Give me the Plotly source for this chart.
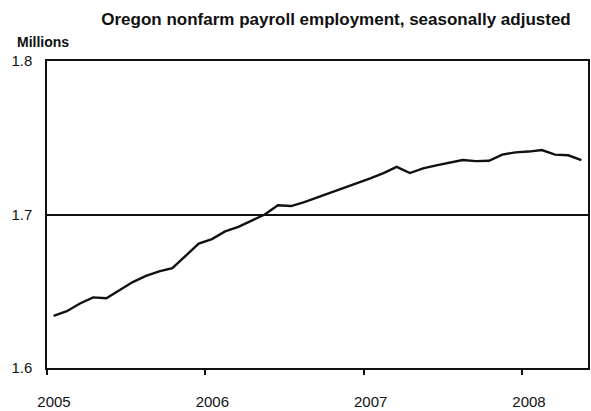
import plotly.graph_objects as go

# Monthly data, Jan 2005 - May 2008 (millions)
years = [2005, 2006, 2007, 2008]
employment_2005 = [1.634, 1.637, 1.642, 1.646, 1.6455, 1.651, 1.656, 1.660, 1.663, 1.665, 1.673, 1.681]
employment_2006 = [1.684, 1.689, 1.692, 1.696, 1.700, 1.706, 1.7055, 1.708, 1.711, 1.714, 1.717, 1.720]
employment_2007 = [1.7235, 1.727, 1.731, 1.727, 1.730, 1.732, 1.7338, 1.7355, 1.7348, 1.735, 1.739, 1.7405]
employment_2008 = [1.741, 1.742, 1.739, 1.7386, 1.7355]
y_ticks = [1.6, 1.7, 1.8]
y_tick_labels = ["1.6", "1.7", "1.8"]
x_tick_labels = ["2005", "2006", "2007", "2008"]

values = employment_2005 + employment_2006 + employment_2007 + employment_2008
# mid-month positions in fractional years
x = [2005 + (i + 0.5) / 12 for i in range(len(values))]

fig = go.Figure()
fig.add_trace(go.Scatter(x=x, y=values, mode="lines",
                         line=dict(color="#111111", width=2.4), showlegend=False,
                         hoverinfo="skip"))

font_family = "Liberation Sans, Arial, sans-serif"

fig.update_layout(
    width=591, height=411,
    margin=dict(l=47, r=1, t=61, b=34),
    paper_bgcolor="white", plot_bgcolor="white",
    font=dict(family=font_family, color="#111111", size=15),
    title=dict(text="<b>Oregon nonfarm payroll employment, seasonally adjusted</b>",
               x=336 / 591, xanchor="center", xref="container",
               y=1 - 19 / 411, yanchor="middle", yref="container",
               font=dict(size=17, family=font_family, color="#111111")),
    annotations=[dict(text="<b>Millions</b>", xref="paper", yref="paper",
                      x=-0.059, y=1.062, xanchor="left", yanchor="middle",
                      showarrow=False, font=dict(size=14, family=font_family, color="#111111"))],
)

fig.update_xaxes(
    range=[2005, 2008 + 5 / 12],
    tickvals=years, ticktext=x_tick_labels,
    ticks="outside", ticklen=5, tickwidth=1.5, tickcolor="#111111",
    showline=True, linecolor="#111111", linewidth=1.5, mirror=True,
    showgrid=False, zeroline=False,
    ticklabelshift=7, ticklabelstandoff=14,
    tickfont=dict(size=15),
)
fig.update_yaxes(
    range=[1.6, 1.8],
    tickvals=y_ticks, ticktext=y_tick_labels,
    ticks="", showline=True, linecolor="#111111", linewidth=1.5, mirror=True,
    showgrid=True, gridcolor="#111111", gridwidth=1.5, zeroline=False,
    ticklabelstandoff=10,
    tickfont=dict(size=15),
)

fig.write_html("out.html", config={"displayModeBar": False},
               post_script="document.body.style.margin='0px';")
